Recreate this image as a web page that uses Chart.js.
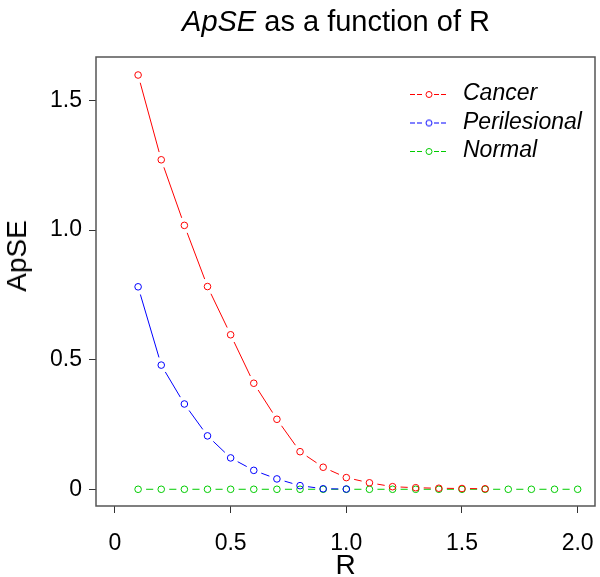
<!DOCTYPE html>
<html>
<head>
<meta charset="utf-8">
<script src="https://cdn.jsdelivr.net/npm/chart.js@4"></script>
<style>
  body { margin: 0; background: #fff; }
  .wrap { position: relative; width: 600px; height: 577px; }
  .title {
    position: absolute; left: 336px; top: 7px; transform: translateX(-50%);
    font: 29px "Liberation Sans", Arial, sans-serif; line-height: 29px;
    white-space: nowrap; color: #000;
  }
  .ytitle {
    position: absolute; left: 17px; top: 256px;
    transform: translate(-50%, -50%) rotate(-90deg);
    font: 28px "Liberation Sans", Arial, sans-serif; line-height: 28px;
    white-space: nowrap; color: #000;
  }
  canvas { display: block; }
</style>
</head>
<body>
<div class="wrap">
  <canvas id="chart" width="600" height="577"></canvas>
  <div class="title"><i>ApSE</i> as a function of R</div>
  <div class="ytitle">ApSE</div>
</div>
<script>
const rValues = [0.1, 0.2, 0.3, 0.4, 0.5, 0.6, 0.7, 0.8, 0.9, 1.0,
                 1.1, 1.2, 1.3, 1.4, 1.5, 1.6, 1.7, 1.8, 1.9, 2.0];
const cancerValues = [1.598, 1.271, 1.018, 0.782, 0.596, 0.409, 0.270, 0.145,
                      0.085, 0.045, 0.025, 0.010, 0.006, 0.004, 0.003, 0.002];
const perilesionalValues = [0.781, 0.479, 0.329, 0.206, 0.121, 0.073, 0.040,
                            0.014, 0.002, 0.001];
const normalValues = [0, 0, 0, 0, 0, 0, 0, 0, 0, 0, 0, 0, 0, 0, 0, 0, 0, 0, 0, 0];
const xTickValues = [0, 0.5, 1.0, 1.5, 2.0];
const yTickValues = [0, 0.5, 1.0, 1.5];
const seriesNames = ["Cancer", "Perilesional", "Normal"];
const seriesColors = ["#ff0000", "#0000ff", "#00cc00"];

const fontFamily = '"Liberation Sans", Arial, sans-serif';
const markerGap = 8;

function toPoints(values) {
  return values.map((v, i) => ({ x: rValues[i], y: v }));
}

// line stops short of each marker (plot type "b")
function gapDash(ctx) {
  const len = Math.hypot(ctx.p1.x - ctx.p0.x, ctx.p1.y - ctx.p0.y);
  if (len <= 2 * markerGap) return [0, len + 1];
  return [0, markerGap, len - 2 * markerGap, markerGap];
}

function makeIcon(color) {
  const c = document.createElement("canvas");
  c.width = 38;
  c.height = 10;
  const g = c.getContext("2d");
  g.strokeStyle = color;
  g.lineWidth = 1;
  g.setLineDash([5, 2]);
  g.beginPath();
  g.moveTo(0, 5.5); g.lineTo(14, 5.5);
  g.moveTo(24, 5.5); g.lineTo(38, 5.5);
  g.stroke();
  g.setLineDash([]);
  g.beginPath();
  g.arc(19, 5.5, 3, 0, 2 * Math.PI);
  g.stroke();
  return c;
}

const icons = seriesColors.map(makeIcon);

function makeDataset(i, values) {
  return {
    label: seriesNames[i],
    data: toPoints(values),
    borderColor: seriesColors[i],
    borderWidth: 1,
    pointRadius: 3.3,
    pointBorderWidth: 1,
    pointBorderColor: seriesColors[i],
    pointBackgroundColor: "rgba(0,0,0,0)",
    segment: { borderDash: gapDash },
  };
}

// box round the plot area
const frame = {
  id: "frame",
  beforeDatasetsDraw(chart) {
    const a = chart.chartArea;
    const g = chart.ctx;
    g.save();
    g.strokeStyle = "#555";
    g.lineWidth = 1.5;
    g.strokeRect(a.left, a.top, a.right - a.left, a.bottom - a.top);
    g.restore();
  },
};

// move the legend to the top right corner of the plot
const legendSpot = {
  id: "legendSpot",
  afterLayout(chart) {
    const lg = chart.legend;
    lg.left = 401;
    lg.top = 77;
    lg.right = 595;
    lg.bottom = 506;
  },
};

new Chart(document.getElementById("chart"), {
  type: "line",
  data: {
    datasets: [
      makeDataset(0, cancerValues),
      makeDataset(1, perilesionalValues),
      makeDataset(2, normalValues),
    ],
  },
  plugins: [frame, legendSpot],
  options: {
    responsive: false,
    animation: false,
    layout: { padding: { top: 57, right: 5, left: 0, bottom: 0 } },
    plugins: {
      tooltip: { enabled: false },
      legend: {
        position: "chartArea",
        align: "start",
        labels: {
          usePointStyle: true,
          pointStyleWidth: 45,
          padding: 5.5,
          color: "#000",
          font: { size: 23, style: "italic", family: fontFamily },
          generateLabels(chart) {
            const items = Chart.defaults.plugins.legend.labels.generateLabels(chart);
            items.forEach((it) => { it.pointStyle = icons[it.datasetIndex]; });
            return items;
          },
        },
      },
    },
    scales: {
      x: {
        type: "linear",
        min: -0.082,
        max: 2.075,
        afterBuildTicks: (s) => { s.ticks = xTickValues.map((v) => ({ value: v })); },
        afterFit: (s) => {
          s.height = 71;
          s.paddingLeft = 0;
          s.paddingRight = 0;
        },
        border: { display: false },
        grid: { drawOnChartArea: false, tickLength: 7, color: "#333", tickColor: "#333" },
        ticks: {
          padding: 17,
          color: "#000",
          font: { size: 23, family: fontFamily },
          callback: (v) => (v === 0 ? "0" : v.toFixed(1)),
        },
        title: {
          display: true,
          text: "R",
          color: "#000",
          font: { size: 28, family: fontFamily, lineHeight: 1 },
          padding: { top: 0, bottom: -3 },
        },
      },
      y: {
        type: "linear",
        min: -0.0645,
        max: 1.6675,
        afterBuildTicks: (s) => { s.ticks = yTickValues.map((v) => ({ value: v })); },
        afterFit: (s) => {
          s.width = 96;
          s.paddingTop = 0;
          s.paddingBottom = 0;
        },
        border: { display: false },
        grid: { drawOnChartArea: false, tickLength: 7, color: "#333", tickColor: "#333" },
        ticks: {
          padding: 7,
          color: "#000",
          font: { size: 23, family: fontFamily },
          callback: (v) => (v === 0 ? "0" : v.toFixed(1)),
        },
      },
    },
  },
});
</script>
</body>
</html>
